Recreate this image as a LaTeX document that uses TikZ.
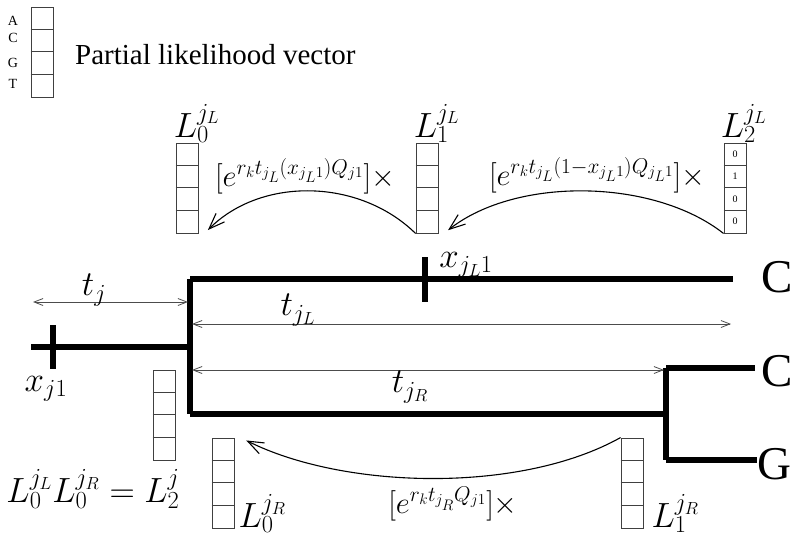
\RequirePackage{fix-cm}
\documentclass[tikz,border=0pt]{standalone}
\usepackage{fontspec}
\setmainfont{Liberation Serif}
\usetikzlibrary{arrows.meta}

\tikzset{
  vecbox/.style={draw=black!75, line width=0.9pt, minimum width=22pt, minimum height=90pt, inner sep=0pt},
  cellline/.style={black!75, line width=0.9pt},
  branch/.style={line width=5.5pt},
  span/.style={black!70, line width=0.8pt, {Straight Barb[length=9pt,width=7pt]}-{Straight Barb[length=9pt,width=7pt]}},
  flow/.style={line width=1.1pt, -{Straight Barb[length=16pt,width=12pt]}},
  biglab/.style={font=\fontsize{35}{40}\selectfont, inner sep=0pt},
  rate/.style={font=\fontsize{30.5}{35}\selectfont, inner sep=0pt},
  leaf/.style={font=\fontsize{47}{52}\selectfont, inner sep=0pt},
  digit/.style={font=\fontsize{10}{11}\selectfont, inner sep=0pt},
  base/.style={font=\fontsize{14}{15}\selectfont, inner sep=0pt},
}

\newcommand{\cellrules}[1]{%
  \foreach \k in {1,2,3}
    \draw[cellline] (#1.north west) ++(0,22.5*\k) -- ++(22,0);}

\begin{document}
\begin{tikzpicture}[x=1pt, y=-1pt]
  \useasboundingbox (0,0) rectangle (794,536);

  % legend
  \node[vecbox] (legend) at (42,52) {};
  \cellrules{legend}
  \foreach \b/\k/\yy in {A/0/21,C/1/38,G/2/63,T/3/84}
    \node[base] (base\k) at (13,\yy) {\b};
  \node[anchor=west, font=\fontsize{29}{34}\selectfont, inner sep=0pt] (legtext) at (75,55) {Partial likelihood vector};

  % vectors along the left branch
  \node[vecbox] (lzero) at (187,188) {};
  \node[vecbox] (lone) at (427,188) {};
  \node[vecbox] (ltwo) at (735,188) {};
  \cellrules{lzero}
  \cellrules{lone}
  \cellrules{ltwo}
  \foreach \v/\k in {0/0,1/1,0/2,0/3}
    \node[digit] (bit\k) at ([yshift={-11.25pt-22.5pt*\k}]ltwo.north) {\v};
  \node[biglab, anchor=south west] (lzerolab) at ([xshift=-2pt]lzero.north west) {$L_0^{j_L}$};
  \node[biglab, anchor=south west] (lonelab) at ([xshift=-2pt]lone.north west) {$L_1^{j_L}$};
  \node[biglab, anchor=south west] (ltwolab) at ([xshift=-3pt]ltwo.north west) {$L_2^{j_L}$};

  \draw[flow, shorten >=2pt] (lone.south west) .. controls +(-56,-55) and +(55,-55) .. ([xshift=8pt,yshift=2pt]lzero.south east);
  \draw[flow, shorten >=2pt] (ltwo.south west) .. controls +(-70,-55) and +(70,-55) .. ([xshift=8pt,yshift=2pt]lone.south east);
  \node[rate] (ratea) at (305,176) {$[e^{r_k t_{j_L}(x_{j_L 1})Q_{j1}}]\times$};
  \node[rate] (rateb) at (597,175) {$[e^{r_k t_{j_L}(1-x_{j_L 1})Q_{j_L 1}}]\times$};

  % tree
  \coordinate (rootend) at (31,347);
  \coordinate (jpt) at (190,347);
  \coordinate (jtop) at (190,279);
  \coordinate (jbot) at (190,414);
  \coordinate (tipa) at (733,279);
  \coordinate (rtop) at (666,368);
  \coordinate (rbot) at (666,460);
  \coordinate (tipb) at (755,368);
  \coordinate (tipc) at (757,460);
  \draw[branch] (rootend) -- (jpt);
  \draw[branch] (jtop) -- (jbot);
  \draw[branch] (jtop) -- (tipa);
  \draw[branch] (jbot) -- (666,414);
  \draw[branch] (rtop) -- (rbot);
  \draw[branch] (rtop) -- (tipb);
  \draw[branch] (rbot) -- (tipc);
  \draw[branch] (53,325) -- (53,369);
  \draw[branch] (425,257) -- (425,302);
  \node[leaf] (leafa) at (777,277) {C};
  \node[leaf] (leafb) at (777,371) {C};
  \node[leaf] (leafc) at (774,464) {G};
  \node[biglab] (xlab) at (46,389) {$x_{j1}$};
  \node[biglab] (xllab) at (466,265) {$x_{j_L1}$};

  % branch lengths
  \coordinate (tja) at (33,302);
  \coordinate (tjb) at (188,302);
  \coordinate (tla) at (192,324);
  \coordinate (tlb) at (731,324);
  \coordinate (tra) at (192,370);
  \coordinate (trb) at (664,370);
  \draw[span] (tja) -- (tjb);
  \draw[span] (tla) -- (tlb);
  \draw[span] (tra) -- (trb);
  \node[biglab] (tjlab) at (94,290) {$t_j$};
  \node[biglab] (tllab) at (298,310) {$t_{j_L}$};
  \node[biglab] (trlab) at (410,387) {$t_{j_R}$};

  % vectors along the right branch
  \node[vecbox] (lroot) at (164,415) {};
  \node[vecbox] (lrzero) at (223,483) {};
  \node[vecbox] (lrone) at (632,483) {};
  \cellrules{lroot}
  \cellrules{lrzero}
  \cellrules{lrone}
  \node[biglab] (prodlab) at (93,489) {$L_0^{j_L}L_0^{j_R}=L_2^j$};
  \node[biglab, anchor=base west] (lrzerolab) at ([xshift=4pt,yshift=1pt]lrzero.south east) {$L_0^{j_R}$};
  \node[biglab, anchor=base west] (lronelab) at ([xshift=8pt,yshift=1pt]lrone.south east) {$L_1^{j_R}$};
  \draw[flow, shorten >=2pt] (lrone.north west) .. controls +(-100,56) and +(100,50) .. ([xshift=10pt,yshift=-2pt]lrzero.north east);
  \node[rate] (ratec) at (453,504) {$[e^{r_k t_{j_R}Q_{j1}}]\times$};
\end{tikzpicture}
\end{document}
